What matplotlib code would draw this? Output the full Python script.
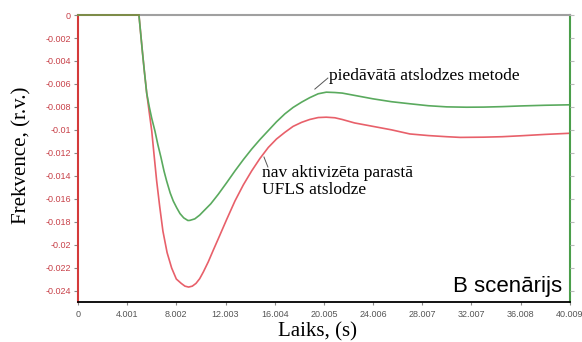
#!/usr/bin/env python3

# frequency response after load shedding, scenario B
import matplotlib
matplotlib.use("Agg")
import matplotlib.pyplot as plt
import numpy as np

# time points (s) and frequency deviation (r.v.)
t_base = [0.0, 2.0, 4.0, 4.96, 5.1, 5.25, 5.4, 5.59]
f_base = [0.0, 0.0, 0.0, 0.0, -0.0016, -0.0033, -0.0049, -0.0068]

t_green = [5.8, 6.0, 6.26, 6.5, 6.75, 7.0, 7.21, 7.5, 7.75, 8.03, 8.3, 8.6, 8.94,
           9.1, 9.5, 9.9, 10.2, 10.8, 11.41, 12.1, 12.77, 13.45, 14.13, 14.8, 15.48,
           16.15, 16.83, 17.5, 18.19, 18.85, 19.54, 20.2, 20.9, 21.5, 22.5, 24.0,
           25.5, 27.0, 28.5, 30.0, 31.6, 33.0, 34.5, 36.0, 38.0, 40.009]
f_green = [-0.0080, -0.0090, -0.0101, -0.0113, -0.0124, -0.0136, -0.01445, -0.0155,
           -0.0162, -0.01679, -0.0173, -0.01767, -0.0179, -0.01789, -0.01776,
           -0.01743, -0.0171, -0.01645, -0.01562, -0.0146, -0.01358, -0.0126,
           -0.01168, -0.01085, -0.01007, -0.0093, -0.00861, -0.00805, -0.00759,
           -0.0072, -0.00686, -0.00672, -0.00675, -0.0068, -0.0070, -0.0073,
           -0.00755, -0.00773, -0.0079, -0.0080, -0.00803, -0.00802, -0.00798,
           -0.00792, -0.00786, -0.00782]

t_red = [5.8, 6.0, 6.2, 6.4, 6.65, 6.91, 7.25, 7.62, 8.0, 8.4, 8.7, 9.0, 9.3, 9.6,
         9.9, 10.2, 10.6, 11.0, 11.41, 12.1, 12.77, 13.45, 14.13, 14.8, 15.48, 16.15,
         16.83, 17.5, 18.19, 18.85, 19.54, 20.2, 20.9, 21.5, 22.5, 24.0, 25.5, 27.0,
         28.5, 30.0, 31.1, 33.0, 34.5, 36.0, 38.0, 40.009]
f_red = [-0.0085, -0.0101, -0.0123, -0.01445, -0.0167, -0.01883, -0.0207, -0.02204,
         -0.0230, -0.02338, -0.02362, -0.0237, -0.02362, -0.02338, -0.02297,
         -0.02238, -0.0215, -0.0205, -0.0195, -0.0178, -0.0162, -0.0148, -0.01358,
         -0.0125, -0.01154, -0.0108, -0.01022, -0.0097, -0.00935, -0.0091, -0.00893,
         -0.0089, -0.00895, -0.0091, -0.0094, -0.0097, -0.0100, -0.01036, -0.0105,
         -0.0106, -0.01066, -0.01064, -0.0106, -0.01052, -0.0104, -0.0103]

x_ticks = [4.00093 * i for i in range(11)]
x_labels = ["0", "4.001", "8.002", "12.003", "16.004", "20.005", "24.006",
            "28.007", "32.007", "36.008", "40.009"]
y_ticks = [-0.002 * i for i in range(13)]
y_labels = ["0", "-0.002", "-0.004", "-0.006", "-0.008", "-0.01", "-0.012",
            "-0.014", "-0.016", "-0.018", "-0.02", "-0.022", "-0.024"]

RED = "#e8606a"
GREEN = "#5aaa5e"

def main():
    fig = plt.figure(figsize=(5.82, 3.42), dpi=100, facecolor="white")
    ax = fig.add_axes([0.134, 0.117, 0.845, 0.839])

    # red curve drawn first, green on top
    ax.plot(t_base + t_red, f_base + f_red, color=RED, lw=1.2)
    ax.plot(t_base + t_green, f_base + f_green, color=GREEN, lw=1.2)
    # shared part before the disturbance, drawn over the top spine
    ax.plot(t_base[:4], f_base[:4], color="#7a8a40", lw=1.3, clip_on=False, zorder=5)

    ax.set_xlim(0, 40.0093)
    ax.set_ylim(-0.025, 0)

    ax.set_xticks(x_ticks)
    ax.set_xticklabels(x_labels, fontsize=6.5, color="#555555", family="Liberation Sans")
    ax.set_yticks(y_ticks)
    ax.set_yticklabels(y_labels, fontsize=6.5, color="#c8424a", family="Liberation Sans")
    ax.tick_params(axis="x", length=2, color="#888888", pad=4)
    ax.tick_params(axis="y", length=3, color="#888888", pad=2)

    # spines
    ax.spines["left"].set_color("#d43a3a")
    ax.spines["left"].set_linewidth(1.5)
    ax.spines["bottom"].set_color("black")
    ax.spines["bottom"].set_linewidth(1.3)
    ax.spines["top"].set_color("#a0a0a0")
    ax.spines["top"].set_linewidth(1.5)
    ax.spines["right"].set_color("#4a9e4a")
    ax.spines["right"].set_linewidth(1.5)

    # small ticks along the right axis
    ax2 = ax.twinx()
    ax2.set_ylim(ax.get_ylim())
    ax2.set_yticks(y_ticks)
    ax2.set_yticklabels([])
    ax2.tick_params(axis="y", length=3, color="#bbbbbb")
    for s in ax2.spines.values():
        s.set_visible(False)

    # axis titles
    ax.set_ylabel("Frekvence, (r.v.)", family="Liberation Serif", fontsize=15)
    ax.yaxis.set_label_coords(-0.095, 0.51)
    fig.text(318 / 582, 1 - 332 / 342, "Laiks, (s)", family="Liberation Serif",
             fontsize=15, ha="center", va="center")

    # curve annotations with short leader lines
    ax.plot([19.27, 20.33], [-0.00645, -0.00549], color="#555555", lw=0.7)
    ax.text(20.4, -0.0053, "piedāvātā atslodzes metode", family="Liberation Serif",
            fontsize=12.5, va="center", ha="left")
    ax.plot([15.13, 15.45], [-0.01237, -0.01324], color="#555555", lw=0.7)
    ax.text(15.0, -0.0145, "nav aktivizēta parastā\nUFLS atslodze", family="Liberation Serif",
            fontsize=12.5, va="center", ha="left", linespacing=1.1)

    ax.text(0.985, 0.055, "B scenārijs", transform=ax.transAxes, ha="right", va="center",
            family="Liberation Sans", fontsize=16)

    fig.savefig("out.png", dpi=100, facecolor="white")
#end main

if __name__ == "__main__":
    main()
